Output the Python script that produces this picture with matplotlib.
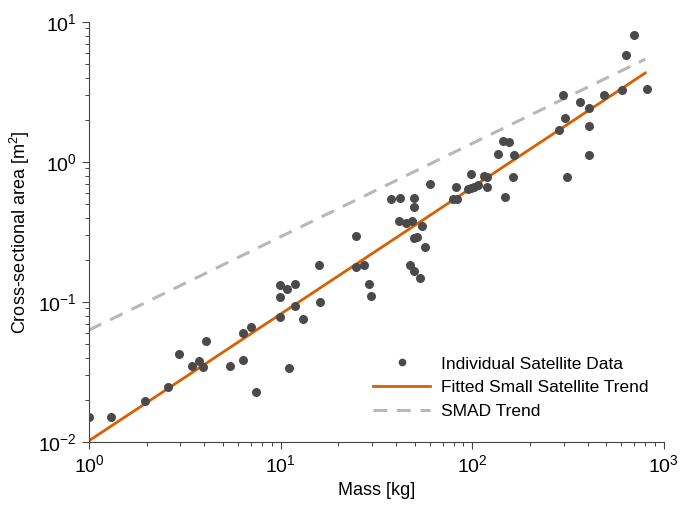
import numpy as np
import matplotlib
matplotlib.use("Agg")
import matplotlib.pyplot as plt

# ── Data ──────────────────────────────────────────────────────────────────────
mass = [1.0, 1.3, 1.95, 2.6, 2.95, 3.45, 3.75, 3.95, 4.1, 5.45, 6.4, 6.4, 7.0,
        7.4, 9.9, 9.9, 9.9, 10.8, 11.1, 11.9, 11.9, 13.1, 15.9, 16.0, 24.8,
        24.8, 27.2, 28.8, 29.7, 37.7, 42.2, 41.7, 45.0, 48.3, 49.7, 49.7,
        54.7, 49.7, 51.7, 56.5, 47.2, 49.7, 53.4, 60.5, 81.8, 79.0, 83.0,
        99.0, 94.5, 98.8, 102.0, 106.6, 115.6, 119.0, 120.0, 137.0, 145.0,
        156.0, 165.0, 163.0, 149.0, 285.0, 305.0, 299.0, 311.0, 366.0, 406.0,
        406.0, 406.0, 489.0, 602.0, 638.0, 697.0, 815.0]
area = [0.015, 0.015, 0.0197, 0.0247, 0.0427, 0.0347, 0.0379, 0.0345, 0.053,
        0.0347, 0.0597, 0.0387, 0.0667, 0.0228, 0.1316, 0.1086, 0.0785,
        0.1245, 0.0338, 0.135, 0.0936, 0.0757, 0.185, 0.10, 0.296, 0.179,
        0.184, 0.135, 0.11, 0.544, 0.55, 0.379, 0.365, 0.381, 0.553, 0.477,
        0.349, 0.285, 0.293, 0.247, 0.184, 0.167, 0.148, 0.70, 0.667, 0.547,
        0.547, 0.82, 0.638, 0.649, 0.667, 0.685, 0.794, 0.667, 0.785, 1.135,
        1.41, 1.39, 1.13, 0.78, 0.56, 1.70, 2.05, 2.99, 0.785, 2.70, 2.42,
        1.82, 1.12, 3.01, 3.25, 5.81, 8.07, 3.32]

# trend coefficients: A = c * M**k
fit_c, fit_k = 0.0102, 0.905
smad_c, smad_k = 0.063, 2.0 / 3.0
trend_mass = [1.0, 800.0]

# ── Style ─────────────────────────────────────────────────────────────────────
plt.rcParams["font.family"] = ["Liberation Sans", "DejaVu Sans"]
plt.rcParams["mathtext.fontset"] = "custom"
plt.rcParams["mathtext.rm"] = "Liberation Sans"
plt.rcParams["mathtext.it"] = "Liberation Sans:italic"

fig = plt.figure(figsize=(6.86, 5.05), dpi=100)
ax = fig.add_axes([0.1297, 0.1248, 0.838, 0.8316])

tm = np.array(trend_mass)
ax.plot(mass, area, "o", color="#4a4a4a", markersize=6.5, markeredgewidth=0,
        label="Individual Satellite Data", zorder=3)
ax.plot(tm, fit_c * tm ** fit_k, color="#d95f02", linewidth=2,
        label="Fitted Small Satellite Trend", zorder=2)
ax.plot(tm, smad_c * tm ** smad_k, color="#b8b8b8", linewidth=2.2,
        linestyle=(0, (4.5, 3.2)), label="SMAD Trend", zorder=1)

ax.set_xscale("log")
ax.set_yscale("log")
ax.set_xlim(1, 1000)
ax.set_ylim(0.01, 10)

for side in ("top", "right"):
    ax.spines[side].set_visible(False)
for side in ("left", "bottom"):
    ax.spines[side].set_color("#444444")
    ax.spines[side].set_linewidth(0.8)

ax.tick_params(which="major", length=5, width=0.8, color="#444444",
               labelsize=14, pad=4)
ax.tick_params(which="minor", length=3, width=0.7, color="#444444")

ax.set_xlabel("Mass [kg]", fontsize=13, labelpad=4)
ax.set_ylabel("Cross-sectional area [m$^2$]", fontsize=13, labelpad=4)

ax.legend(loc="lower right", bbox_to_anchor=(1.0, 0.017), frameon=False,
          fontsize=12.5, handlelength=3.3, handletextpad=0.6, labelspacing=0.5,
          markerscale=0.85)

fig.savefig("out.png", dpi=100)
